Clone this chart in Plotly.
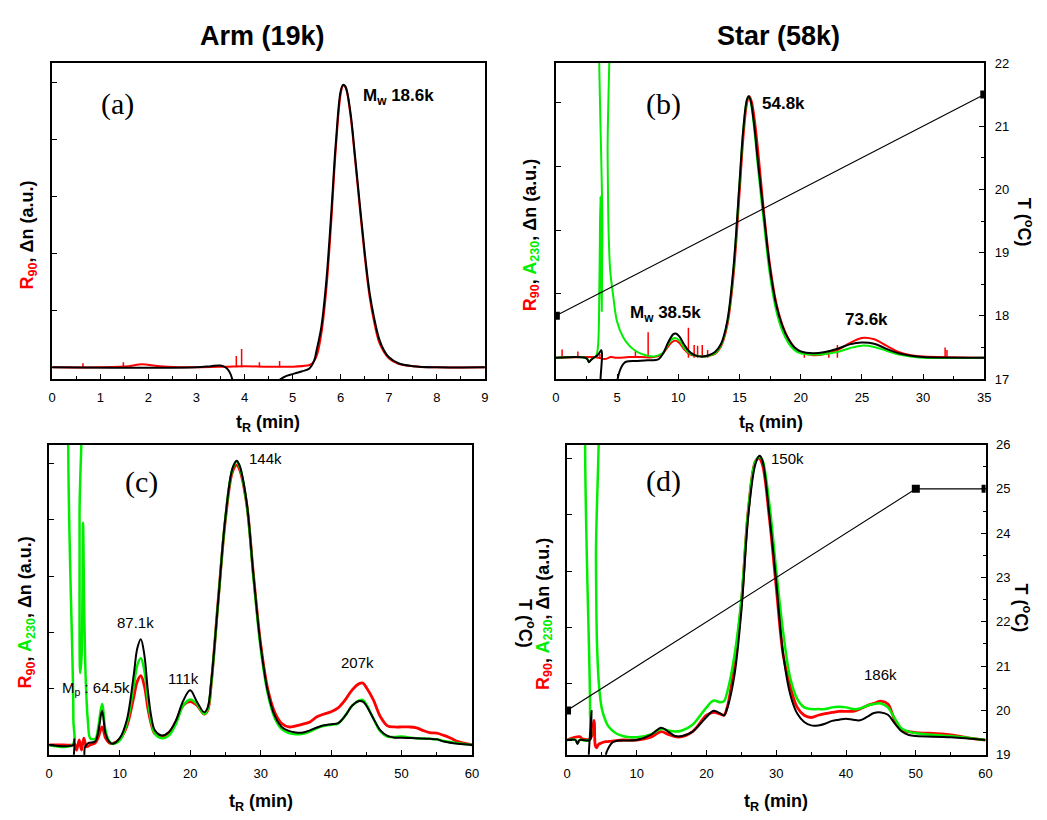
import plotly.graph_objects as go

# ------------------------------------------------------------------
# Chromatogram data: (retention time [min], signal [a.u.]) pairs.
# R90 = light scattering (red), A230 = UV (green), dn = RI (black)
# ------------------------------------------------------------------

# (a) Arm (19k), 0-9 min
a_r90 = [(0, 0), (1.0, 0.0), (1.6, 0.02), (1.8, 0.05), (1.95, 0.05), (2.1, 0.03), (2.4, 0.01),
         (3.0, 0.0), (3.6, 0.01), (4.0, 0.02), (4.5, 0.01), (5.0, 0.01), (5.3, 0.03), (5.4, 0.06),
         (5.5, 0.2), (5.6, 0.6), (5.7, 1.35), (5.8, 2.5), (5.9, 3.85), (6.0, 4.8), (6.05, 4.95),
         (6.1, 4.92), (6.2, 4.45), (6.3, 3.65), (6.4, 2.78), (6.5, 1.95), (6.6, 1.25), (6.7, 0.78),
         (6.8, 0.44), (6.9, 0.27), (7.0, 0.16), (7.2, 0.06), (7.5, 0.02), (8.0, 0.0), (9.0, 0.0)]
a_dn = [(0, 0), (3.0, 0.0), (3.3, 0.02), (3.5, 0.03), (3.6, 0.0), (3.68, -0.07), (3.75, -0.22),
        (3.8, -0.5), (4.4, -0.5), (4.5, -0.33), (4.73, -0.22), (4.85, -0.16), (5.0, -0.12),
        (5.2, -0.07), (5.35, -0.02), (5.45, 0.12), (5.5, 0.3), (5.6, 0.72), (5.7, 1.5), (5.8, 2.65),
        (5.9, 3.95), (6.0, 4.85), (6.05, 4.96), (6.1, 4.93), (6.2, 4.5), (6.3, 3.7), (6.4, 2.85),
        (6.5, 2.02), (6.6, 1.32), (6.7, 0.85), (6.8, 0.5), (6.9, 0.3), (7.0, 0.18), (7.2, 0.07),
        (7.5, 0.02), (8.0, 0.0), (9.0, 0.0)]
a_r90_spikes = [(0.64, 0.07), (1.48, 0.09), (3.83, 0.2), (3.94, 0.32), (4.31, 0.09), (4.73, 0.11)]

# (b) Star (58k), 0-35 min
b_r90 = [(0, 0), (3.0, 0.01), (3.5, 0.0), (4.0, -0.02), (4.5, 0.01), (5.0, 0.0), (6.0, 0.01),
         (7.0, 0.01), (8.0, 0.01), (8.7, 0.06), (9.0, 0.13), (9.4, 0.23), (9.75, 0.27), (10.1, 0.23),
         (10.5, 0.13), (11, 0.05), (11.5, 0.03), (12, 0.02), (12.5, 0.03), (13, 0.06), (13.5, 0.18),
         (14, 0.5), (14.5, 1.25), (15, 2.55), (15.3, 3.4), (15.6, 3.97), (15.8, 4.1), (16.0, 4.02),
         (16.3, 3.65), (16.6, 3.1), (17, 2.3), (17.5, 1.45), (18, 0.87), (18.5, 0.52), (19, 0.3),
         (19.5, 0.16), (20, 0.09), (21, 0.04), (22, 0.06), (23, 0.12), (24, 0.23), (25, 0.31),
         (26, 0.29), (27, 0.19), (28, 0.09), (29, 0.04), (30, 0.02), (35, 0.0)]
b_a230 = [(0, 0), (2.4, 0), (2.6, -0.03), (2.7, -0.07), (2.85, -0.04), (3.1, 0), (3.3, 0.03),
          (3.45, 0.2), (3.56, 1.2), (3.64, 2.53), (3.7, 1.4), (3.75, 0.73), (3.8, 2.0), (3.86, 6.5),
          (4.15, 6.5), (4.23, 3.2), (4.32, 1.9), (4.45, 1.35), (4.7, 0.95), (5.0, 0.57), (5.5, 0.32),
          (6.0, 0.19), (6.5, 0.11), (7.0, 0.06), (8.0, 0.02), (8.7, 0.07), (9.0, 0.15), (9.4, 0.28),
          (9.75, 0.31), (10.1, 0.27), (10.5, 0.15), (11, 0.06), (11.5, 0.03), (12, 0.02), (12.5, 0.03),
          (13, 0.07), (13.5, 0.2), (14, 0.55), (14.5, 1.36), (15, 2.72), (15.3, 3.55), (15.6, 4.03),
          (15.75, 4.09), (15.9, 4.02), (16.2, 3.6), (16.5, 3.0), (17, 2.1), (17.5, 1.28), (18, 0.74),
          (18.5, 0.42), (19, 0.23), (19.5, 0.12), (20, 0.07), (21, 0.05), (22, 0.06), (23, 0.09),
          (24, 0.15), (25, 0.19), (26, 0.17), (27, 0.11), (28, 0.05), (29, 0.02), (30, 0.0), (35, 0.0)]
b_dn = [(0, 0), (2.4, 0), (2.6, -0.03), (2.7, -0.07), (2.85, -0.04), (3.1, 0.0), (3.4, 0.04),
        (3.6, 0.09), (3.72, 0.12), (3.77, 0.05), (3.82, -0.8), (4.9, -0.8), (5.04, -0.34),
        (5.2, -0.22), (5.4, -0.13), (5.6, -0.08), (5.8, -0.06), (6.5, -0.05), (7.5, -0.04),
        (8.4, -0.02), (8.8, 0.08), (9.2, 0.25), (9.6, 0.37), (9.8, 0.38), (10.1, 0.33), (10.5, 0.2),
        (11, 0.08), (11.5, 0.03), (12, 0.02), (12.5, 0.04), (13, 0.09), (13.5, 0.22), (14, 0.57),
        (14.5, 1.39), (15, 2.73), (15.3, 3.55), (15.6, 4.04), (15.75, 4.1), (15.9, 4.04), (16.2, 3.65),
        (16.5, 3.09), (17, 2.22), (17.5, 1.39), (18, 0.83), (18.5, 0.5), (19, 0.29), (19.5, 0.16),
        (20, 0.1), (21, 0.07), (22, 0.09), (23, 0.14), (24, 0.21), (25, 0.24), (26, 0.22), (27, 0.14),
        (28, 0.07), (29, 0.03), (30, 0.01), (35, 0.0)]
b_r90_spikes = [(0.51, 0.13), (1.8, 0.1), (3.6, 0.06), (6.5, 0.11), (7.54, 0.4), (10.83, 0.47),
                (11.3, 0.2), (11.58, 0.19), (11.96, 0.2), (12.4, 0.12), (20.3, 0.08), (22.3, 0.11),
                (23.0, 0.2), (31.8, 0.16), (31.95, 0.12)]
b_temp_t = [0, 35]
b_temp = [18.0, 21.5]

# (c) 0-60 min
c_r90 = [(0, 0), (2, 0), (3.4, 0), (3.6, 0.02), (3.88, -0.09), (4.26, 0.09), (4.58, -0.09),
         (4.91, 0.12), (5.3, -0.03), (5.8, 0.0), (6.5, 0.03), (7.0, 0.15), (7.5, 0.32), (8.0, 0.12),
         (8.5, 0.04), (9, 0.03), (10, 0.1), (11, 0.33), (12, 0.85), (12.5, 1.13), (13, 1.23),
         (13.5, 1.05), (14, 0.65), (14.5, 0.36), (15, 0.2), (16, 0.15), (17, 0.22), (18, 0.42),
         (19, 0.7), (20, 0.77), (21, 0.7), (22, 0.55), (22.5, 0.62), (23, 1.1), (24, 2.6), (25, 4.0),
         (26, 4.85), (26.6, 4.97), (27, 4.9), (28, 4.3), (29, 3.0), (30, 1.8), (31, 1.0), (32, 0.58),
         (33, 0.38), (34, 0.32), (35, 0.34), (36, 0.37), (37, 0.41), (38, 0.5), (39, 0.55), (40, 0.59),
         (41, 0.66), (42, 0.8), (43, 0.98), (44, 1.09), (44.5, 1.1), (45, 1.02), (46, 0.8), (47, 0.5),
         (48, 0.34), (49, 0.32), (50, 0.32), (51, 0.32), (52, 0.31), (53, 0.26), (54, 0.22),
         (55, 0.21), (56, 0.17), (57, 0.12), (58, 0.06), (59, 0.03), (60, 0.0)]
c_a230 = [(0, 0), (3.3, 0), (3.42, 0.5), (3.5, 7), (4.2, 7), (4.3, 4.0), (4.4, 1.28), (4.6, 1.6),
          (4.8, 3.95), (4.95, 2.5), (5.1, 1.5), (5.3, 0.8), (5.5, 0.4), (5.8, 0.12), (6.2, 0.1),
          (6.6, 0.12), (7.0, 0.35), (7.5, 0.73), (8.0, 0.25), (8.5, 0.07), (9.0, 0.02), (10, 0.08),
          (11, 0.38), (12, 1.05), (12.5, 1.42), (13, 1.54), (13.5, 1.32), (14, 0.8), (14.5, 0.4),
          (15, 0.2), (16, 0.12), (17, 0.17), (18, 0.38), (19, 0.7), (20, 0.81), (21, 0.72), (22, 0.55),
          (22.5, 0.64), (23, 1.1), (24, 2.58), (25, 4.03), (26, 4.9), (26.6, 5.03), (27, 4.95),
          (28, 4.3), (29, 2.95), (30, 1.72), (31, 0.92), (32, 0.48), (33, 0.28), (34, 0.21),
          (35, 0.19), (36, 0.2), (37, 0.24), (38, 0.3), (39, 0.34), (40, 0.36), (41, 0.38), (42, 0.52),
          (43, 0.7), (44, 0.79), (44.5, 0.8), (45, 0.72), (46, 0.47), (47, 0.24), (48, 0.15),
          (49, 0.14), (50, 0.15), (52, 0.12), (54, 0.11), (55, 0.1), (56, 0.07), (58, 0.03), (60, 0.0)]
c_dn = [(0, 0), (3.4, 0), (3.6, 0.1), (3.65, -1.0), (5.0, -1.0), (5.05, -0.05), (5.5, 0.03),
        (6.5, 0.06), (7.0, 0.26), (7.5, 0.61), (8.0, 0.2), (8.5, 0.06), (9.0, 0.02), (10, 0.12),
        (11, 0.44), (12, 1.25), (12.5, 1.72), (13, 1.88), (13.5, 1.6), (14, 0.96), (14.5, 0.49),
        (15, 0.26), (16, 0.17), (17, 0.23), (18, 0.44), (19, 0.78), (20, 0.97), (21, 0.76),
        (22, 0.58), (22.5, 0.67), (23, 1.13), (24, 2.59), (25, 4.04), (26, 4.91), (26.6, 5.05),
        (27, 4.97), (28, 4.33), (29, 2.99), (30, 1.77), (31, 0.96), (32, 0.52), (33, 0.32),
        (34, 0.25), (35, 0.22), (36, 0.22), (37, 0.26), (38, 0.31), (39, 0.35), (40, 0.37),
        (41, 0.39), (42, 0.52), (43, 0.7), (44, 0.78), (44.5, 0.77), (45, 0.7), (46, 0.47),
        (47, 0.26), (48, 0.16), (49, 0.13), (50, 0.13), (52, 0.12), (54, 0.11), (55, 0.1),
        (56, 0.06), (58, 0.02), (60, 0.0)]

# (d) 0-60 min
d_r90 = [(0, 0), (1.8, 0.06), (2.2, 0.02), (3.3, 0.02), (3.6, 0.1), (3.85, 0.35), (3.93, 0.29),
         (4.05, -0.1), (4.22, -0.14), (4.5, -0.08), (4.8, -0.06), (5.5, -0.03), (6.5, -0.02),
         (8, 0.0), (10, 0.0), (12, 0.05), (13.5, 0.15), (14.5, 0.1), (16, 0.05), (18, 0.15),
         (20, 0.44), (21, 0.49), (22, 0.46), (22.5, 0.44), (23, 0.6), (24, 1.35), (25, 2.45),
         (26, 4.1), (27, 4.95), (27.5, 5.01), (28, 4.9), (29, 3.95), (30, 2.7), (31, 1.5),
         (32, 0.95), (33, 0.58), (34, 0.44), (35, 0.4), (36, 0.44), (37, 0.47), (38, 0.49),
         (39, 0.51), (40, 0.51), (41, 0.51), (42, 0.55), (43, 0.61), (44, 0.65), (45, 0.69),
         (46, 0.64), (47, 0.35), (48, 0.17), (49, 0.15), (50, 0.13), (52, 0.12), (55, 0.09),
         (58, 0.03), (60, 0.0)]
d_a230 = [(0, 0), (1.2, 0), (1.5, -0.06), (1.8, 0), (3.2, 0.0), (3.3, 0.5), (3.38, 7), (4.05, 7),
          (4.15, 3.2), (4.3, 1.7), (4.6, 0.95), (5.0, 0.55), (5.5, 0.35), (6, 0.23), (7, 0.12),
          (8, 0.07), (9, 0.05), (10, 0.05), (12, 0.1), (13.5, 0.2), (14.5, 0.17), (15.5, 0.15),
          (16.5, 0.17), (18, 0.27), (19, 0.42), (20, 0.58), (21, 0.7), (22, 0.67), (22.5, 0.69),
          (23, 0.87), (24, 1.5), (25, 2.5), (26, 4.1), (27, 4.95), (27.6, 5.03), (28, 4.98),
          (29, 4.2), (30, 3.0), (31, 1.9), (32, 1.1), (33, 0.73), (34, 0.58), (35, 0.55), (36, 0.55),
          (37, 0.55), (38, 0.58), (39, 0.59), (40, 0.58), (41, 0.55), (42, 0.56), (43, 0.61),
          (44, 0.64), (45, 0.65), (46, 0.58), (47, 0.38), (48, 0.2), (49, 0.15), (50, 0.12),
          (55, 0.07), (60, 0.0)]
d_dn = [(0, 0), (1.2, 0), (1.5, -0.07), (1.8, 0), (3.3, 0), (3.45, 0.2), (3.52, 0.52),
        (3.57, -1.5), (5.4, -1.5), (5.57, -0.26), (5.9, -0.15), (6.3, -0.07), (6.75, -0.03),
        (7.5, -0.01), (10, 0.0), (12, 0.09), (13.5, 0.22), (14.5, 0.15), (15.5, 0.07), (16.5, 0.07),
        (18, 0.15), (20, 0.41), (21, 0.52), (22, 0.47), (22.5, 0.44), (23, 0.58), (24, 1.15),
        (25, 2.3), (26, 4.0), (27, 4.9), (27.6, 5.05), (28, 4.97), (29, 4.01), (30, 2.8), (31, 1.51),
        (32, 0.81), (33, 0.47), (34, 0.32), (35, 0.26), (36, 0.26), (37, 0.29), (38, 0.34),
        (39, 0.36), (40, 0.38), (41, 0.36), (42, 0.35), (43, 0.41), (44, 0.48), (45, 0.49),
        (46, 0.45), (47, 0.29), (48, 0.15), (49, 0.09), (50, 0.07), (55, 0.05), (60, 0.0)]
d_temp_t = [0, 50, 60]
d_temp = [20, 25, 25]

# ------------------------------------------------------------------
W, H = 1047, 820
SANS = "Liberation Sans, Arial, sans-serif"
SERIF = "Liberation Serif, Times New Roman, serif"
RED, GREEN, BLACK = "#ff0000", "#00ee00", "#000000"


def px(x):
    return x / W


def py(y):
    return 1 - y / H


fig = go.Figure()


def curve(points, color, width, xa, ya):
    t, v = zip(*points)
    fig.add_trace(go.Scatter(x=list(t), y=list(v), mode="lines", xaxis=xa, yaxis=ya,
                             line=dict(color=color, width=width, shape="spline", smoothing=1.0),
                             hoverinfo="skip", showlegend=False))


def spikes(points, color, width, xa, ya):
    xs, ys = [], []
    for t, h in points:
        xs += [t, t, None]
        ys += [0, h, None]
    fig.add_trace(go.Scatter(x=xs, y=ys, mode="lines", xaxis=xa, yaxis=ya,
                             line=dict(color=color, width=width), connectgaps=False,
                             hoverinfo="skip", showlegend=False))


def temperature(t, T, xa, ya):
    fig.add_trace(go.Scatter(x=t, y=T, mode="lines+markers", xaxis=xa, yaxis=ya,
                             line=dict(color=BLACK, width=1.1),
                             marker=dict(symbol="square", size=8, color=BLACK),
                             hoverinfo="skip", showlegend=False))


# panel (a)
curve(a_r90, RED, 2, "x", "y")
spikes(a_r90_spikes, RED, 1.5, "x", "y")
curve(a_dn, BLACK, 2, "x", "y")
# panel (b)
curve(b_r90, RED, 2, "x2", "y2")
spikes(b_r90_spikes, RED, 1.5, "x2", "y2")
curve(b_a230, GREEN, 2, "x2", "y2")
curve(b_dn, BLACK, 2, "x2", "y2")
temperature(b_temp_t, b_temp, "x2", "y5")
# panel (c)
curve(c_r90, RED, 2.8, "x3", "y3")
curve(c_a230, GREEN, 2.5, "x3", "y3")
curve(c_dn, BLACK, 2, "x3", "y3")
# panel (d)
curve(d_r90, RED, 2.8, "x4", "y4")
curve(d_a230, GREEN, 2.5, "x4", "y4")
curve(d_dn, BLACK, 2, "x4", "y4")
temperature(d_temp_t, d_temp, "x4", "y7")

TICKFONT = dict(family=SANS, size=13, color=BLACK)
LINE = dict(showline=True, linecolor=BLACK, linewidth=1.6, showgrid=False, zeroline=False)


def xaxis(domain, anchor, rng, dtick, minor):
    return dict(domain=domain, anchor=anchor, range=rng, tick0=0, dtick=dtick,
                ticks="inside", ticklen=5, tickwidth=1.3, tickcolor=BLACK, ticklabelstandoff=6,
                minor=dict(ticks="inside", ticklen=3, tickwidth=1.1, dtick=minor, tickcolor=BLACK),
                mirror=True, tickfont=TICKFONT, **LINE)


def yleft(domain, anchor, rng, n):
    return dict(domain=domain, anchor=anchor, range=rng, tickvals=list(range(n)),
                showticklabels=False, ticks="inside", ticklen=5, tickwidth=1.3, tickcolor=BLACK,
                mirror=True, **LINE)


def yright(over, anchor, rng):
    return dict(overlaying=over, anchor=anchor, side="right", range=rng, tick0=0, dtick=1,
                ticks="inside", ticklen=5, tickwidth=1.3, tickcolor=BLACK, ticklabelstandoff=6,
                minor=dict(ticks="inside", ticklen=3, tickwidth=1.1, dtick=0.5, tickcolor=BLACK),
                tickfont=TICKFONT, **LINE)


top_y = [py(379), py(57)]
bot_y = [py(761.7), py(445.7)]

fig.update_layout(
    width=W, height=H, margin=dict(l=0, r=0, t=0, b=0),
    paper_bgcolor="white", plot_bgcolor="white", showlegend=False,
    xaxis=xaxis([px(48.7), px(486)], "y", [0, 9], 1, 0.5),
    yaxis=yleft(top_y, "x", [-0.207, 5.345], 6),
    xaxis2=xaxis([px(557.7), px(990.7)], "y2", [0, 35], 5, 2.5),
    yaxis2=yleft(top_y, "x2", [-0.334, 4.62], 5),
    xaxis3=xaxis([px(45.7), px(473)], "y3", [0, 60], 10, 5),
    yaxis3=yleft(bot_y, "x3", [-0.174, 5.337], 6),
    xaxis4=xaxis([px(569), px(992)], "y4", [0, 60], 10, 5),
    yaxis4=yleft(bot_y, "x4", [-0.262, 5.25], 6),
    yaxis5=yright("y2", "x2", [17, 22]),
    yaxis6=yright("y3", "x3", [19, 26]),
    yaxis7=yright("y4", "x4", [19, 26]),
)


def note(text, x, y, size, bold=False, family=SANS, angle=0, xanchor="center", yanchor="middle"):
    if bold:
        text = "<b>" + text + "</b>"
    fig.add_annotation(text=text, x=px(x), y=py(y), xref="paper", yref="paper",
                       showarrow=False, textangle=angle, xanchor=xanchor, yanchor=yanchor,
                       font=dict(family=family, size=size, color=BLACK))


# column titles
note("Arm (19k)", 261, 30, 27, bold=True)
note("Star (58k)", 783, 30, 27, bold=True)

# x-axis titles
XT = "t<sub>R</sub> (min)"
note(XT, 267, 411, 18, bold=True, yanchor="top")
note(XT, 775, 411, 18, bold=True, yanchor="top")
note(XT, 260, 797, 18, bold=True, yanchor="top")
note(XT, 780, 797, 18, bold=True, yanchor="top")

# left y-axis titles
R90 = '<span style="color:%s">R<sub>90</sub></span>, ' % RED
A230 = '<span style="color:%s">A<sub>230</sub></span>, ' % GREEN
note(R90 + "Δn (a.u.)", 25, 232, 18, bold=True, angle=-90)
note(R90 + A230 + "Δn (a.u.)", 533, 232, 18, bold=True, angle=-90)
note(R90 + A230 + "Δn (a.u.)", 23, 617, 18, bold=True, angle=-90)
note(R90 + A230 + "Δn (a.u.)", 546, 618, 18, bold=True, angle=-90)

# right y-axis titles
TT = "T (<sup>o</sup>C)"
note(TT, 1031, 219, 18, bold=True, angle=90)
note(TT, 528, 628, 18, bold=True, angle=90)
note(TT, 1029, 612, 18, bold=True, angle=90)

# panel letters
note("(a)", 115, 99, 30, family=SERIF)
note("(b)", 666, 99, 30, family=SERIF)
note("(c)", 139, 484, 30, family=SERIF)
note("(d)", 666, 483, 30, family=SERIF)

# peak molar masses
note("M<sub>w</sub> 18.6k", 361, 92, 17, bold=True, xanchor="left")
note("54.8k", 788, 98, 17, bold=True)
note("M<sub>w</sub> 38.5k", 631, 313, 17, bold=True, xanchor="left")
note("73.6k", 872, 318, 17, bold=True)
note("144k", 264, 460, 15)
note("87.1k", 133, 627, 15)
note("111k", 181, 684, 15)
note("207k", 357, 668, 15)
note("M<sub>p</sub> : 64.5k", 57, 694, 15, xanchor="left")
note("150k", 792, 460, 15)
note("186k", 886, 680, 15)

fig.write_html("out.html")
